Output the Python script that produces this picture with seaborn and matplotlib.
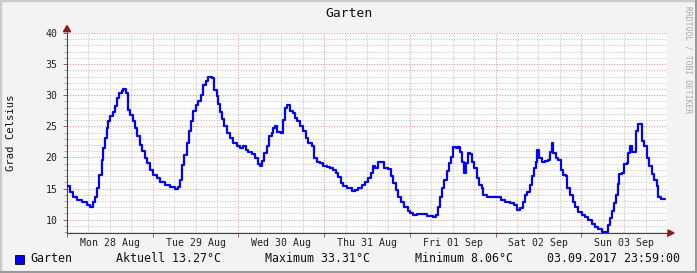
import numpy as np
import pandas as pd
import matplotlib
matplotlib.use("Agg")
import matplotlib.pyplot as plt
from matplotlib.patches import Rectangle, Polygon
import seaborn as sns

# ---- data (hours since Mon 28 Aug 00:00, temperature in °C) ----
hours = [0, 0.84, 1.76, 2.72, 4.12, 5.52, 6.44, 7.36, 7.84, 8.49, 9.05, 9.72, 10.17, 10.64,
         11.12, 11.57, 12.04, 12.8, 13.44, 13.92, 14.65, 15.32, 15.77, 16.52, 17.17, 17.64,
         18.4, 19.04, 19.69, 20.44, 20.92, 21.84, 22.49, 23.24, 24.17, 25.12, 26.04, 27.44,
         28.84, 30.24, 31.17, 31.64, 32.29, 32.85, 33.52, 34.16, 34.72, 35.37, 36.04, 36.77,
         37.52, 38.17, 38.84, 39.57, 40.52, 41.25, 41.92, 42.37, 42.84, 43.49, 44.05, 44.72,
         45.64, 46.57, 47.52, 48.45, 49.37, 50.04, 50.77, 51.89, 52.65, 53.4, 54.05, 54.69,
         55.25, 55.92, 56.57, 57.32, 57.77, 58.25, 58.89, 59.84, 60.4, 61.05, 61.69, 62.45,
         63.2, 63.85, 64.49, 65.25, 66.17, 66.93, 67.57, 68.52, 69.17, 69.92, 70.85, 71.77,
         72.72, 73.65, 74.57, 75.33, 75.97, 76.64, 77.37, 78.49, 79.72, 80.65, 81.57, 82.52,
         83.45, 84.37, 85.04, 85.6, 86.25, 87.17, 88.12, 88.85, 89.97, 90.73, 91.37, 92.04,
         92.77, 93.53, 94.45, 95.41, 96.05, 96.98, 97.93, 98.85, 99.78, 100.73, 101.65,
         102.58, 103.25, 103.81, 104.45, 104.93, 105.66, 106.33, 106.97, 107.53, 108.18,
         108.85, 109.58, 110.05, 110.7, 111.26, 111.65, 112.21, 112.85, 113.33, 114.06,
         114.73, 115.37, 116.13, 116.41, 117.53, 118.93, 120.33, 121.45, 122.66, 124.05,
         125.17, 125.93, 126.85, 127.61, 128.25, 128.9, 129.65, 130.13, 130.77, 131.25,
         131.69, 132.25, 132.93, 133.85, 134.78, 135.25, 135.73, 136.17, 136.93, 137.58,
         138.25, 138.98, 139.73, 140.09, 140.85, 141.61, 142.26, 143.18, 144.13, 145.06,
         145.98, 146.93, 147.86, 148.78, 149.74, 150.86, 151.42, 152.07, 152.55, 153.19,
         153.75, 154.23, 154.66, 155.5, 156.06, 156.73, 157.17, 157.65, 158.3, 158.86,
         159.25, 159.81, 160.46, 160.94, 161.66, 162.33, 162.98, 163.73, 164.46, 165.13,
         165.58, 166.33, 167.45]
temps = [15.4, 14.5, 13.7, 13.2, 12.8, 12.4, 12.1, 12.9, 13.7, 15.1, 17.2, 19.6, 21.5, 23.1,
         24.7, 25.8, 26.6, 27.3, 28.2, 29.5, 30.3, 30.7, 31.0, 30.3, 27.6, 26.8,
         25.8, 24.7, 23.4, 22.0, 21.0, 19.9, 19.1, 18.0, 17.2, 16.7, 16.1, 15.6,
         15.2, 15.0, 15.3, 16.4, 18.8, 20.4, 22.3, 24.2, 25.8, 27.4, 28.5, 29.1,
         30.05, 31.7, 32.3, 32.9, 32.8, 30.9, 29.8, 28.6, 27.3, 26.2, 25.0, 23.9,
         23.1, 22.3, 21.8, 21.5, 21.8, 21.2, 20.8, 20.5, 19.9, 18.9, 18.55, 19.5,
         20.7, 21.8, 23.4, 23.9, 24.7, 25.0, 24.1, 23.9, 26.0, 27.9, 28.45, 27.5,
         27.1, 26.3, 25.8, 25.0, 24.2, 23.1, 22.3, 21.8, 19.9, 19.35, 19.1, 18.55,
         18.4, 18.3, 18.0, 17.5, 16.8, 15.9, 15.45, 15.1, 14.65, 14.8, 15.1, 15.6,
         16.1, 16.7, 17.5, 18.55, 18.3, 19.35, 19.35, 18.3, 18.2, 16.95, 15.9, 14.8,
         13.7, 12.9, 12.1, 11.45, 11.1, 10.8, 10.95, 10.9, 10.95, 10.65, 10.55,
         10.4, 10.8, 12.1, 13.7, 15.1, 16.4, 17.75, 19.1, 20.15, 21.6,
         21.5, 21.6, 20.95, 19.35, 17.5, 19.1, 20.7, 20.5, 19.35, 18.3,
         16.7, 15.6, 15.1, 14.0, 13.6, 13.7, 13.6, 13.2, 12.9, 12.65,
         12.3, 11.6, 11.9, 12.9, 14.0, 14.5, 15.6, 16.95, 18.3, 19.35,
         21.2, 19.9, 19.35, 19.4, 19.6, 20.95, 22.3, 20.7, 19.9, 19.6,
         18.0, 17.2, 16.95, 15.1, 14.0, 12.9, 12.1, 11.3, 10.7, 10.4,
         9.9, 9.3, 8.8, 8.55, 8.1, 8.06, 9.2, 10.3, 11.45, 12.65,
         14.0, 15.7, 17.3, 17.5, 18.9, 19.1, 20.7, 21.9, 20.95, 20.95,
         24.2, 25.35, 25.45, 22.6, 21.8, 19.9, 18.55, 17.3, 16.4, 15.35,
         13.7, 13.35, 13.27]
day_labels = ["Mon 28 Aug", "Tue 29 Aug", "Wed 30 Aug", "Thu 31 Aug",
              "Fri 01 Sep", "Sat 02 Sep", "Sun 03 Sep"]
y_ticks = [10, 15, 20, 25, 30, 35, 40]
title = "Garten"
ylabel = "Grad Celsius"
series_name = "Garten"
legend_items = ["Aktuell 13.27°C", "Maximum 33.31°C", "Minimum 8.06°C"]
timestamp = "03.09.2017 23:59:00"

df = pd.DataFrame({"h": hours, "t": temps})

W, H = 697, 273
fig = plt.figure(figsize=(W / 100, H / 100), dpi=100)
sns.set_style("white")
plt.rcParams["font.family"] = ["DejaVu Sans Mono", "DejaVu Sans"]
fig.patch.set_facecolor("#F3F3F3")

L, R, T, B = 67, 667, 33, 233
ax = fig.add_axes([L / W, 1 - B / H, (R - L) / W, (B - T) / H])
ax.set_facecolor("white")

ymin, ymax = 7.86, 40
ax.set_xlim(0, 168)
ax.set_ylim(ymin, ymax)

# grid
dash = (0, (1.0, 1.4))
for v in range(8, 41):
    if v % 5 == 0:
        continue
    ax.axhline(v, color="#C4C4C4", lw=0.8, ls=dash, zorder=1)
for hh in range(6, 168, 6):
    if hh % 24 == 0:
        continue
    ax.axvline(hh, color="#C4C4C4", lw=0.8, ls=dash, zorder=1)
for v in y_ticks:
    ax.axhline(v, color="#E29A9A", lw=0.8, ls=dash, zorder=1.5)
for hh in range(24, 168, 24):
    ax.axvline(hh, color="#E29A9A", lw=0.8, ls=dash, zorder=1.5)

sns.lineplot(data=df, x="h", y="t", ax=ax, color="#0000FF", lw=1.6,
             drawstyle="steps-post", zorder=3, legend=False)

for s in ["top", "right"]:
    ax.spines[s].set_visible(False)
for s in ["left", "bottom"]:
    ax.spines[s].set_color("#444444")
    ax.spines[s].set_linewidth(0.8)

ax.set_yticks(y_ticks)
ax.set_yticklabels([str(v) for v in y_ticks], fontsize=7.1, color="#222222")
ax.set_yticks(range(8, 41), minor=True)
ax.set_xticks([12 + 24 * i for i in range(7)])
ax.set_xticklabels(day_labels, fontsize=7.1, color="#222222")
ax.set_xticks(range(0, 169, 24), minor=True)
ax.tick_params(axis="y", which="major", length=3, width=0.7, color="#AA5555", pad=4, left=True)
ax.tick_params(axis="y", which="minor", length=2, width=0.6, color="#999999", left=True)
ax.tick_params(axis="x", which="major", length=0, pad=3.5)
ax.tick_params(axis="x", which="minor", length=3, width=0.7, color="#AA5555", bottom=True)
ax.set_xlabel("")
ax.set_ylabel("")

# axis arrows
ax.add_patch(Polygon([[0 - 1.0, 40.2], [0 + 1.0, 40.2], [0, 41.2]], closed=True,
                     color="#8B1A1A", clip_on=False, transform=ax.transData, zorder=5))
fig.patches.append(Polygon([[(R + 1) / W, 1 - (B - 3) / H], [(R + 1) / W, 1 - (B + 3) / H],
                            [(R + 7) / W, 1 - B / H]], closed=True, color="#8B1A1A",
                           transform=fig.transFigure, figure=fig))

# texts
fig.text(348.5 / W, 1 - 13.5 / H, title, ha="center", va="center", fontsize=9.4, color="#111111")
fig.text(11 / W, 1 - 133 / H, ylabel, ha="center", va="center", rotation=90, fontsize=7.6,
         color="#111111")
fig.text(688 / W, 1 - 60 / H, "RRDTOOL / TOBI OETIKER", ha="center", va="center",
         rotation=270, fontsize=5.8, color="#A8A8A8")

ly = 1 - 259 / H
fig.patches.append(Rectangle((15 / W, 1 - 263.5 / H), 9 / W, 9 / H, facecolor="#0000FF",
                             edgecolor="#000000", lw=0.6, transform=fig.transFigure, figure=fig))
fig.text(30 / W, ly, series_name, ha="left", va="center", fontsize=8.4, color="#111111")
for x0, txt in zip([116, 265, 415], legend_items):
    fig.text(x0 / W, ly, txt, ha="left", va="center", fontsize=8.4, color="#111111")
fig.text(680 / W, ly, timestamp, ha="right", va="center", fontsize=8.4, color="#111111")

# border shading
fig.patches.append(Rectangle((0, 0), 1, 1, fill=False, edgecolor="#CBCBCB", lw=2.5,
                             transform=fig.transFigure, figure=fig))
fig.lines.append(plt.Line2D([0, 1], [1 / H, 1 / H], color="#999999", lw=2.2,
                            transform=fig.transFigure, figure=fig))
fig.lines.append(plt.Line2D([1 - 1 / W, 1 - 1 / W], [0, 1], color="#999999", lw=2.2,
                            transform=fig.transFigure, figure=fig))

fig.savefig("out.png", dpi=100, facecolor=fig.get_facecolor())
